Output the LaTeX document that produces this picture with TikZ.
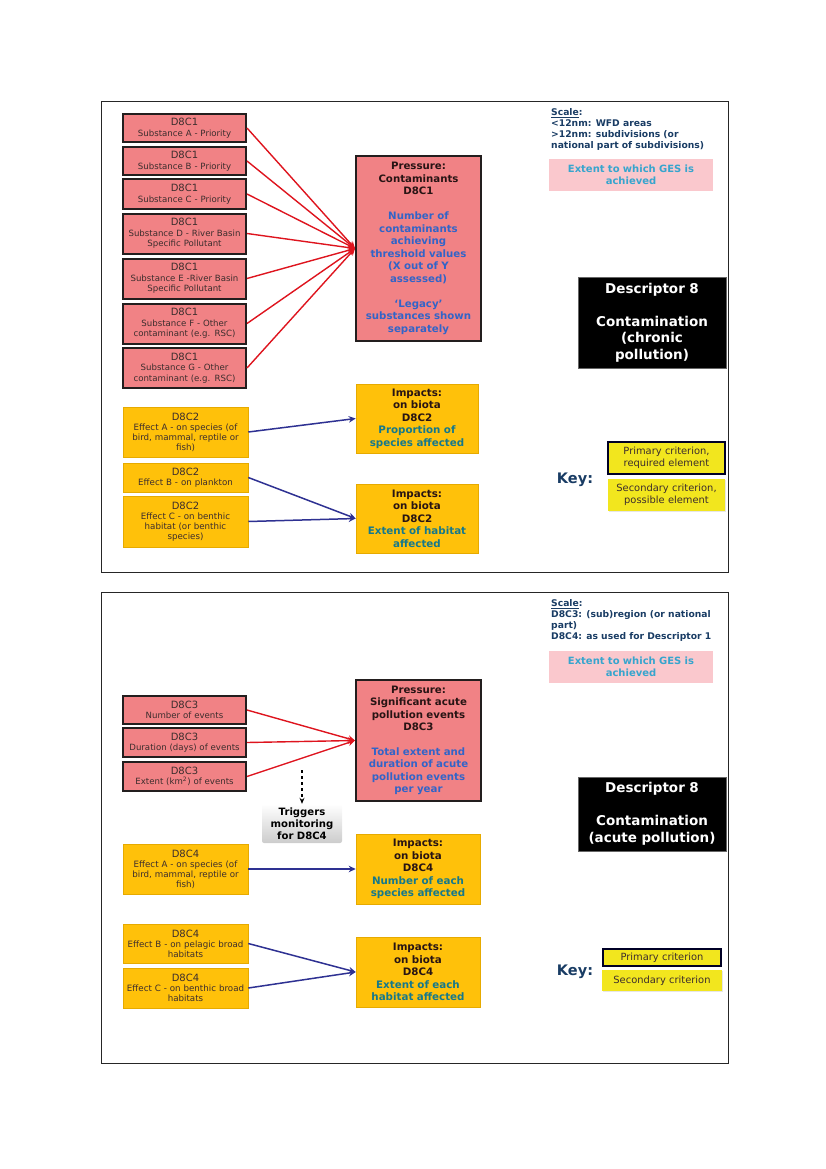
\documentclass[tikz,border=0pt]{standalone}
\usepackage{fontspec}
\setmainfont{DejaVu Sans}
\usepackage{xcolor}
\usepackage{tikz}
\usetikzlibrary{positioning}
\usetikzlibrary{arrows.meta,shadows}

\definecolor{salmon}{RGB}{241,130,133}
\definecolor{boxedge}{RGB}{35,30,30}
\definecolor{boxtext}{RGB}{60,45,45}
\definecolor{titletext}{RGB}{40,20,20}
\definecolor{bodyblue}{RGB}{50,100,200}
\definecolor{impteal}{RGB}{20,120,140}
\definecolor{amber}{RGB}{255,193,10}
\definecolor{amberedge}{RGB}{230,170,0}
\definecolor{keyyellow}{RGB}{242,230,30}
\definecolor{gespink}{RGB}{250,200,205}
\definecolor{gescyan}{RGB}{55,165,205}
\definecolor{scaleblue}{RGB}{25,60,100}
\definecolor{redline}{RGB}{222,20,30}
\definecolor{navyline}{RGB}{46,49,146}

\newcommand{\boxhead}[1]{{\fontsize{10}{11}\selectfont #1}\\}

\tikzset{
  frame/.style={draw=black!85, line width=0.8pt},
  redbox/.style={draw=boxedge, line width=2pt, fill=salmon, text=boxtext,
    minimum width=123pt, text width=121pt, inner sep=1pt, align=center,
    font=\fontsize{8.6}{10.5}\selectfont},
  pressbox/.style={draw=boxedge, line width=2pt, fill=salmon, text=titletext,
    minimum width=125pt, text width=123pt, inner sep=1pt, align=center,
    font=\bfseries\fontsize{10.2}{12.5}\selectfont},
  yelbox/.style={draw=amberedge, line width=0.6pt, fill=amber, text=boxtext,
    minimum width=125pt, text width=123pt, inner sep=1pt, align=center,
    font=\fontsize{8.7}{10}\selectfont,
    drop shadow={shadow xshift=1.2pt, shadow yshift=-1.2pt, opacity=.25}},
  impbox/.style={draw=amberedge, line width=0.6pt, fill=amber, text=titletext,
    minimum width=122pt, text width=120pt, inner sep=1pt, align=center,
    font=\bfseries\fontsize{10.3}{12.5}\selectfont,
    drop shadow={shadow xshift=1.2pt, shadow yshift=-1.2pt, opacity=.25}},
  trigbox/.style={rounded corners=2pt, top color=white, bottom color=black!20,
    minimum width=80pt, minimum height=39pt, text width=78pt, inner sep=1pt,
    align=center, font=\bfseries\fontsize{10.1}{12}\selectfont},
  scaletext/.style={text=scaleblue, inner sep=0pt, align=left,
    font=\bfseries\fontsize{9.2}{11.2}\selectfont},
  gesbox/.style={fill=gespink, text=gescyan, minimum width=164pt, minimum height=32pt,
    text width=160pt, inner sep=1pt, align=center,
    font=\bfseries\fontsize{10}{11.5}\selectfont},
  descbox/.style={fill=black, draw=black!60, text=white, minimum width=148pt,
    text width=146pt, inner sep=1pt, align=center,
    font=\bfseries\fontsize{13.5}{16.5}\selectfont,
    drop shadow={shadow xshift=1.2pt, shadow yshift=-1.2pt, opacity=.3}},
  keylabel/.style={text=scaleblue, font=\bfseries\fontsize{14.5}{16}\selectfont},
  primbox/.style={draw=black!85!blue, line width=2pt, fill=keyyellow, text=boxtext,
    minimum width=117pt, text width=115pt, inner sep=1pt, align=center,
    font=\fontsize{9.9}{11.5}\selectfont},
  secbox/.style={fill=keyyellow, text=boxtext,
    minimum width=117pt, text width=115pt, inner sep=1pt, align=center,
    font=\fontsize{9.9}{11.5}\selectfont,
    drop shadow={shadow xshift=1pt, shadow yshift=-1pt, opacity=.2}},
  redarr/.style={draw=redline, line width=1.4pt, -{Stealth[length=7pt,width=6.5pt]}},
  bluearr/.style={draw=navyline, line width=1.5pt, -{Stealth[length=7pt,width=6.5pt]}},
  trigarr/.style={draw=black, line width=1.2pt, dashed, -{Stealth[length=6pt,width=5pt]}}
}

\begin{document}
\begin{tikzpicture}[x=1pt, y=-1pt]
\useasboundingbox (0,0) rectangle (826,1169);

\draw[frame] (101,101) rectangle (728,572);

\node[redbox, minimum height=28pt] (sub1) at (184.5,128) {\boxhead{D8C1}Substance A - Priority};
\node[redbox, minimum height=28pt, below=3pt of sub1] (sub2) {\boxhead{D8C1}Substance B - Priority};
\node[redbox, minimum height=29pt, below=2.5pt of sub2] (sub3) {\boxhead{D8C1}Substance C - Priority};
\node[redbox, minimum height=40pt, below=3pt of sub3] (sub4) {\boxhead{D8C1}Substance D - River Basin\\Specific Pollutant};
\node[redbox, minimum height=40pt, below=3pt of sub4] (sub5) {\boxhead{D8C1}Substance E -River Basin\\Specific Pollutant};
\node[redbox, minimum height=40pt, below=3pt of sub5] (sub6) {\boxhead{D8C1}Substance F - Other\\contaminant (e.g. RSC)};
\node[redbox, minimum height=40pt, below=2.5pt of sub6] (sub7) {\boxhead{D8C1}Substance G - Other\\contaminant (e.g. RSC)};

\node[pressbox, minimum height=185pt] (press1) at (418.5,248.5) {Pressure:\\Contaminants\\D8C1\\[12.5pt]\color{bodyblue}Number of\\contaminants\\achieving\\threshold values\\(X out of Y\\assessed)\\[12.5pt]`Legacy'\\substances shown\\separately};

\foreach \i in {1,...,7}
  \draw[redarr] (sub\i.east) -- (press1.west);

\node[yelbox, minimum height=50pt] (eff1) at (185.5,432) {\boxhead{D8C2}Effect A - on species (of\\bird, mammal, reptile or\\fish)};
\node[yelbox, minimum height=29pt] (eff2) at (185.5,477.5) {\boxhead{D8C2}Effect B - on plankton};
\node[yelbox, minimum height=51pt] (eff3) at (185.5,521.5) {\boxhead{D8C2}Effect C - on benthic\\habitat (or benthic\\species)};

\node[impbox, minimum height=69pt] (imp1) at (417,418.5) {Impacts:\\on biota\\D8C2\\\color{impteal}Proportion of\\species affected};
\node[impbox, minimum height=69pt] (imp2) at (417,518.5) {Impacts:\\on biota\\D8C2\\\color{impteal}Extent of habitat\\affected};

\draw[bluearr] (eff1.east) -- (imp1.west);
\draw[bluearr] (eff2.east) -- (imp2.west);
\draw[bluearr] (eff3.east) -- (imp2.west);

\node[scaletext, anchor=north west] (scale1) at (551,108) {\underline{Scale}:\\<12nm: WFD areas\\>12nm: subdivisions (or\\national part of subdivisions)};
\node[gesbox] (ges1) at (631,175) {Extent to which GES is\\achieved};
\node[descbox, minimum height=91pt] (desc1) at (652,322.5) {Descriptor 8\\[16.5pt]Contamination\\(chronic\\pollution)};
\node[keylabel] (key1) at (575,480) {Key:};
\node[primbox, minimum height=32pt] (prim1) at (666.5,458) {Primary criterion,\\required element};
\node[secbox, minimum height=32pt] (sec1) at (666.5,495) {Secondary criterion,\\possible element};

\draw[frame] (101,592) rectangle (728,1063);

\node[redbox, minimum height=28pt] (evt1) at (184.5,710) {\boxhead{D8C3}Number of events};
\node[redbox, minimum height=29pt, below=2pt of evt1] (evt2) {\boxhead{D8C3}Duration (days) of events};
\node[redbox, minimum height=29pt, below=3pt of evt2] (evt3) {\boxhead{D8C3}Extent (km\textsuperscript{2}) of events};

\node[pressbox, minimum height=121pt] (press2) at (418.5,740.5) {Pressure:\\Significant acute\\pollution events\\D8C3\\[12pt]\color{bodyblue}Total extent and\\duration of acute\\pollution events\\per year};

\foreach \i in {1,2,3}
  \draw[redarr] (evt\i.east) -- (press2.west);

\node[trigbox] (trig) at (302,823.5) {Triggers\\monitoring\\for D8C4};
\coordinate (trigtop) at (302,770);
\draw[trigarr] (trigtop) -- (trig.north);

\node[yelbox, minimum height=50pt] (eff4) at (185.5,869) {\boxhead{D8C4}Effect A - on species (of\\bird, mammal, reptile or\\fish)};
\node[impbox, minimum height=70pt, minimum width=124pt] (imp3) at (418,869) {Impacts:\\on biota\\D8C4\\\color{impteal}Number of each\\species affected};
\draw[bluearr] (eff4.east) -- (imp3.west);

\node[yelbox, minimum height=39pt] (eff5) at (185.5,943.5) {\boxhead{D8C4}Effect B - on pelagic broad\\habitats};
\node[yelbox, minimum height=40pt] (eff6) at (185.5,988) {\boxhead{D8C4}Effect C - on benthic broad\\habitats};
\node[impbox, minimum height=70pt, minimum width=124pt] (imp4) at (418,972) {Impacts:\\on biota\\D8C4\\\color{impteal}Extent of each\\habitat affected};
\draw[bluearr] (eff5.east) -- (imp4.west);
\draw[bluearr] (eff6.east) -- (imp4.west);

\node[scaletext, anchor=north west] (scale2) at (551,599) {\underline{Scale}:\\D8C3: (sub)region (or national\\part)\\D8C4: as used for Descriptor 1};
\node[gesbox] (ges2) at (631,667) {Extent to which GES is\\achieved};
\node[descbox, minimum height=74pt] (desc2) at (652,814) {Descriptor 8\\[16.5pt]Contamination\\(acute pollution)};
\node[keylabel] (key2) at (575,972) {Key:};
\node[primbox, minimum height=17pt, minimum width=118pt] (prim2) at (662,957.5) {Primary criterion};
\node[secbox, minimum height=21pt, minimum width=120pt] (sec2) at (662,980.5) {Secondary criterion};
\end{tikzpicture}
\end{document}
